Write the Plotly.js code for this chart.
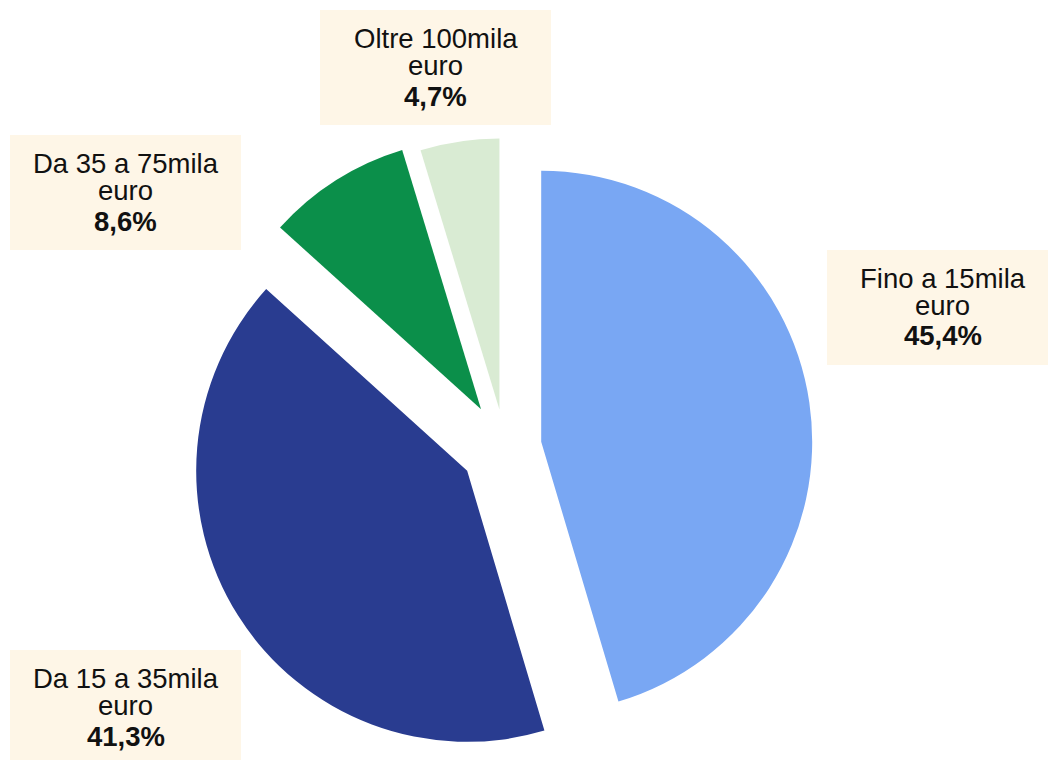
<!DOCTYPE html>
<html>
<head>
<meta charset="utf-8">
<script src="https://cdn.plot.ly/plotly-3.0.1.min.js"></script>
<style>
  html, body { margin: 0; padding: 0; overflow: hidden; background: #ffffff; }
  #chart { width: 1048px; height: 800px; }
</style>
</head>
<body>
<div id="chart"></div>
<script>
// ---- data ----
var categories = ["Fino a 15mila euro", "Da 15 a 35mila euro", "Da 35 a 75mila euro", "Oltre 100mila euro"];
var shares = [45.4, 41.3, 8.6, 4.7];
var sliceColors = ["#79a7f3", "#293c90", "#0b8f4a", "#d9ebd3"];
var pulls = [0.135, 0.165, 0.165, 0.14];

// ---- layout helpers (pixel positions of the label boxes: left, top) ----
var W = 1048, H = 800;
var boxTopLeft = [[827, 250], [10, 650], [10, 135], [320, 10]];
var boxW = 231, boxH = 115;
var lineOffsets = [28.5, 55, 86];
function fx(p) { return p / W; }
function fy(p) { return 1 - p / H; }
function fmt(v) { return v.toFixed(1).replace('.', ','); }

var FONT = 'Liberation Sans, Arial, sans-serif';
var shapes = [];
var annotations = [];
categories.forEach(function (c, i) {
  var x0 = boxTopLeft[i][0], y0 = boxTopLeft[i][1];
  shapes.push({
    type: 'rect', xref: 'paper', yref: 'paper', layer: 'below',
    x0: fx(x0), x1: fx(x0 + boxW), y0: fy(y0), y1: fy(y0 + boxH),
    fillcolor: '#fef6e7', line: { width: 0 }
  });
  var parts = [c.replace(/ euro$/, ''), 'euro', '<b>' + fmt(shares[i]) + '%</b>'];
  parts.forEach(function (t, k) {
    annotations.push({
      xref: 'paper', yref: 'paper',
      x: fx(x0 + boxW / 2), y: fy(y0 + lineOffsets[k]),
      xanchor: 'center', yanchor: 'middle',
      showarrow: false, text: t,
      font: { family: FONT, size: 27.5, color: '#111111' }
    });
  });
});

var trace = {
  type: 'pie',
  labels: categories,
  values: shares,
  sort: false,
  direction: 'clockwise',
  rotation: 0,
  pull: pulls,
  marker: { colors: sliceColors, line: { width: 0 } },
  textinfo: 'none',
  hoverinfo: 'none',
  showlegend: false,
  domain: { x: [0.18063, 0.78311], y: [0.04663, 0.83588] }
};

var layout = {
  width: W, height: H,
  margin: { l: 0, r: 0, t: 0, b: 0 },
  paper_bgcolor: '#ffffff',
  showlegend: false,
  shapes: shapes,
  annotations: annotations
};

Plotly.newPlot('chart', [trace], layout, { displayModeBar: false, staticPlot: true });
</script>
</body>
</html>
